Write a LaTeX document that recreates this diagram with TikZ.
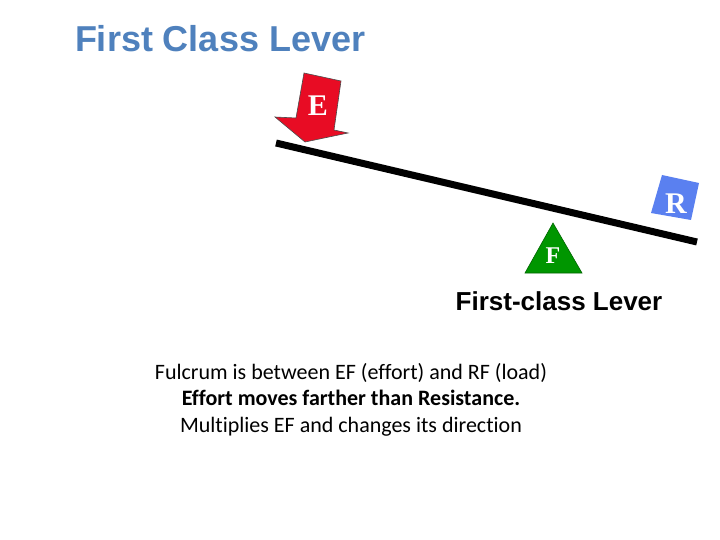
\documentclass[tikz,border=0pt]{standalone}
\usepackage{fontspec}
\setmainfont{Carlito}[Ligatures=NoCommon]
\newfontfamily\headfont{Liberation Sans}
\newfontfamily\letterfont{Liberation Serif}
\usepackage{xcolor}
\definecolor{titleblue}{RGB}{79,129,189}
\definecolor{effortred}{RGB}{232,12,36}
\definecolor{loadblue}{RGB}{90,128,240}
\definecolor{fulcrumgreen}{RGB}{0,150,0}
\usepackage{tikz}

\begin{document}
\begin{tikzpicture}[x=1pt,y=-1pt,
  every node/.style={inner sep=0pt,outer sep=0pt},
  letter/.style={text=white,font=\letterfont\bfseries\fontsize{30}{30}\selectfont},
  note/.style={align=center,font=\fontsize{22}{26.5}\selectfont}]
\useasboundingbox[fill=white] (0,0) rectangle (720,540);
% title
\node[anchor=base west,text=titleblue,font=\headfont\bfseries\fontsize{36}{36}\selectfont] (title) at (75,52) {First Class Lever};
% lever bar
\coordinate (leverL) at (276,143);
\coordinate (leverR) at (697,242);
\draw[line width=7pt] (leverL) -- (leverR);
% effort arrow
\filldraw[fill=effortred,draw=black!70,line width=0.6pt]
  (304,73) -- (341,81) -- (334,130) -- (348,133) -- (305,142) -- (275,117) -- (296,118) -- cycle;
\node[letter] (effort) at (318,106) {E};
% load box
\fill[loadblue] (662,175) -- (699,183) -- (691,220) -- (651,213) -- cycle;
\node[letter] (load) at (676,204) {R};
% fulcrum
\filldraw[fill=fulcrumgreen,draw=black!60!green,line width=0.6pt]
  (553,223) -- (582,273) -- (525,273) -- cycle;
\node[letter,font=\letterfont\bfseries\fontsize{24}{24}\selectfont] (fulcrum) at (553,256) {F};
\node[anchor=base,font=\headfont\bfseries\fontsize{26}{26}\selectfont] (caption) at (559,310) {First-class Lever};
% notes
\node[note,anchor=north] (notes) at (351,363) {Fulcrum is between EF (effort) and RF (load)\\
  \textbf{Effort moves farther than Resistance.}\\
  Multiplies EF and changes its direction};
\end{tikzpicture}
\end{document}
